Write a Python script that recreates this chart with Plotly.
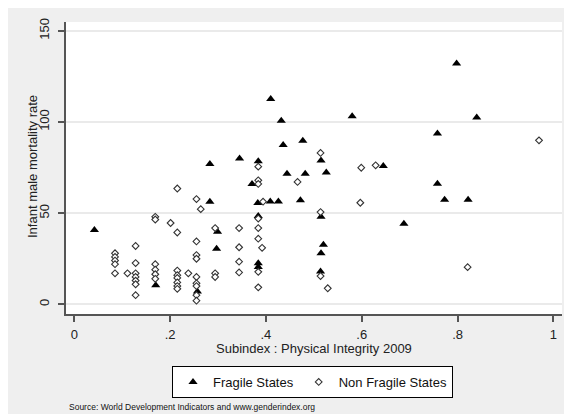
import plotly.graph_objects as go

# Fragile States (triangles)
fragile_x = [0.042, 0.170, 0.257, 0.283, 0.283, 0.299, 0.297, 0.345, 0.371, 0.384,
             0.383, 0.384, 0.384, 0.384, 0.410, 0.409, 0.426, 0.432, 0.436, 0.444,
             0.472, 0.477, 0.482, 0.515, 0.526, 0.515, 0.520, 0.515, 0.514, 0.580,
             0.645, 0.688, 0.758, 0.758, 0.773, 0.798, 0.822, 0.840]
fragile_y = [40.7, 10.5, 7.0, 77.0, 56.3, 39.8, 30.5, 80.0, 66.0, 78.5,
             55.5, 48.5, 22.5, 20.5, 112.6, 56.4, 56.4, 100.7, 87.4, 71.6,
             57.0, 89.7, 71.6, 78.8, 72.3, 48.0, 32.7, 28.0, 18.0, 103.1,
             75.8, 44.2, 93.7, 66.1, 57.4, 132.0, 57.4, 102.4]

# Non Fragile States (diamonds)
nonfragile_x = [0.085, 0.085, 0.085, 0.085, 0.085,
                0.111,
                0.128, 0.128, 0.128, 0.128, 0.128, 0.128, 0.128,
                0.169, 0.169, 0.169, 0.169, 0.169, 0.169,
                0.201,
                0.215, 0.215, 0.215, 0.215, 0.215, 0.215, 0.215, 0.215,
                0.238,
                0.255, 0.255, 0.255, 0.255, 0.255, 0.255, 0.255, 0.255, 0.255,
                0.264,
                0.294, 0.294, 0.294,
                0.344, 0.344, 0.344, 0.344,
                0.384, 0.384, 0.384, 0.394, 0.384, 0.384, 0.384, 0.384, 0.384,
                0.392,
                0.466,
                0.514, 0.514, 0.514,
                0.529, 0.597, 0.599, 0.629, 0.821, 0.970]
nonfragile_y = [28.0, 26.0, 24.0, 22.0, 17.0,
                17.0,
                32.0, 22.6, 17.0, 15.0, 13.0, 11.0, 5.0,
                48.0, 46.5, 22.0, 19.0, 16.5, 14.0,
                44.6,
                63.5, 39.4, 18.5, 16.0, 14.5, 12.0, 10.0, 8.5,
                17.0,
                57.7, 34.5, 27.0, 25.0, 15.0, 11.5, 10.0, 5.0, 2.0,
                52.2,
                41.8, 17.0, 15.0,
                41.8, 31.3, 23.4, 17.5,
                75.5, 68.0, 66.0, 56.3, 47.0, 41.8, 36.0, 17.8, 9.3,
                31.0,
                67.1,
                83.0, 50.6, 15.5,
                8.8, 55.7, 74.9, 76.2, 20.4, 89.9]

x_ticks = [0, 0.2, 0.4, 0.6, 0.8, 1]
x_tick_labels = ["0", ".2", ".4", ".6", ".8", "1"]
y_ticks = [0, 50, 100, 150]
y_tick_labels = ["0", "50", "100", "150"]

FONT = "Arial, Liberation Sans, sans-serif"
AXIS = "#555555"

fig = go.Figure()
fig.add_trace(go.Scatter(
    x=fragile_x, y=fragile_y, mode="markers", name="Fragile States",
    marker=dict(symbol="triangle-up", size=8, color="black", line=dict(width=0)),
))
fig.add_trace(go.Scatter(
    x=nonfragile_x, y=nonfragile_y, mode="markers", name="Non Fragile States",
    marker=dict(symbol="diamond", size=5.2, color="white",
                line=dict(color="#333333", width=1.1)),
))

# page body has an 8px margin, so the figure is 564x406 drawn at (8, 8)
fig.update_layout(
    width=564, height=406,
    margin=dict(l=58, r=10, t=14, b=100),
    paper_bgcolor="#EFEFEF",
    plot_bgcolor="white",
    font=dict(family=FONT, size=13, color="#222222"),
    showlegend=True,
    legend=dict(
        orientation="h", x=0.497, xanchor="center", y=-0.178, yanchor="top",
        bordercolor="black", borderwidth=1, bgcolor="white",
        font=dict(size=13, color="#111111"), itemwidth=30,
        tracegroupgap=0,
    ),
    xaxis=dict(
        range=[-0.0173, 1.018], tickvals=x_ticks, ticktext=x_tick_labels,
        showgrid=False, zeroline=False, showline=True, linecolor=AXIS, linewidth=2,
        ticks="outside", ticklen=6, tickwidth=1.5, tickcolor=AXIS,
        tickfont=dict(size=13, color="#222222"), ticklabelstandoff=1,
        automargin=False,
    ),
    yaxis=dict(
        range=[-5.3, 154.8], tickvals=y_ticks, ticktext=y_tick_labels,
        showgrid=True, gridcolor="#EAEAEA", gridwidth=1.5,
        zeroline=False, showline=True, linecolor=AXIS, linewidth=2,
        ticks="outside", ticklen=6, tickwidth=1.5, tickcolor=AXIS,
        tickangle=-90, tickfont=dict(size=13, color="#222222"),
        ticklabelstandoff=4, automargin=False,
    ),
    annotations=[
        dict(text="Subindex : Physical Integrity 2009", xref="paper", yref="paper",
             x=(314 - 66) / 496, y=(314 - 348) / 292, showarrow=False,
             xanchor="center", yanchor="middle", font=dict(size=13, color="#222222")),
        dict(text="Infant male mortality rate", xref="paper", yref="paper",
             x=(32 - 66) / 496, y=(314 - 167) / 292, showarrow=False, textangle=-90,
             xanchor="center", yanchor="middle", font=dict(size=13, color="#222222")),
        dict(text="Source: World Development Indicators and www.genderindex.org",
             xref="paper", yref="paper", x=(67 - 66) / 496, y=(314 - 407) / 292,
             showarrow=False, xanchor="left", yanchor="middle",
             font=dict(size=8.5, color="#111111")),
    ],
)

fig.write_html("out.html")
